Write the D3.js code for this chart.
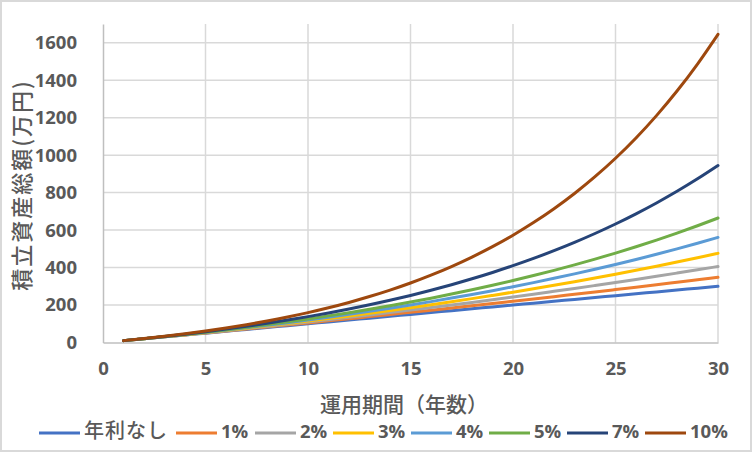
<!DOCTYPE html>
<html>
<head>
<meta charset="utf-8">
<script src="https://cdn.jsdelivr.net/npm/d3@7"></script>
<style>
  body { margin: 0; background: #fff; }
  svg text { fill: #595959; }
  .num { font-family: "Open Sans", "Noto Sans", sans-serif; font-weight: 700; }
  .jp { font-family: "Noto Sans CJK JP", sans-serif; font-weight: 500; }
</style>
</head>
<body>
<div id="chart"></div>
<script>
const years = d3.range(1, 31);
const seriesNames = ["年利なし", "1%", "2%", "3%", "4%", "5%", "7%", "10%"];
const colors = ["#4472C4", "#ED7D31", "#A5A5A5", "#FFC000", "#5B9BD5", "#70AD47", "#264478", "#9E480E"];

const rate0 = [10, 20, 30, 40, 50, 60, 70, 80, 90, 100, 110, 120, 130, 140, 150, 160, 170, 180, 190, 200, 210, 220, 230, 240, 250, 260, 270, 280, 290, 300];
const rate1 = [10, 20.1, 30.3, 40.6, 51.0, 61.5, 72.1, 82.9, 93.7, 104.6, 115.7, 126.8, 138.1, 149.5, 161.0, 172.6, 184.3, 196.1, 208.1, 220.2, 232.4, 244.7, 257.2, 269.7, 282.4, 295.3, 308.2, 321.3, 334.5, 347.8];
const rate2 = [10, 20.2, 30.6, 41.2, 52.0, 63.1, 74.3, 85.8, 97.5, 109.5, 121.7, 134.1, 146.8, 159.7, 172.9, 186.4, 200.1, 214.1, 228.4, 243.0, 257.8, 273.0, 288.4, 304.2, 320.3, 336.7, 353.4, 370.5, 387.9, 405.7];
const rate3 = [10, 20.3, 30.9, 41.8, 53.1, 64.7, 76.6, 88.9, 101.6, 114.6, 128.1, 141.9, 156.2, 170.9, 186.0, 201.6, 217.6, 234.1, 251.2, 268.7, 286.8, 305.4, 324.5, 344.3, 364.6, 385.5, 407.1, 429.3, 452.2, 475.8];
const rate4 = [10, 20.4, 31.2, 42.5, 54.2, 66.3, 79.0, 92.1, 105.8, 120.1, 134.9, 150.3, 166.3, 182.9, 200.2, 218.2, 237.0, 256.5, 276.7, 297.8, 319.7, 342.5, 366.2, 390.8, 416.5, 443.1, 470.8, 499.7, 529.7, 560.8];
const rate5 = [10, 20.5, 31.5, 43.1, 55.3, 68.0, 81.4, 95.5, 110.3, 125.8, 142.1, 159.2, 177.1, 196.0, 215.8, 236.6, 258.4, 281.3, 305.4, 330.7, 357.2, 385.1, 414.3, 445.0, 477.3, 511.1, 546.7, 584.0, 623.2, 664.4];
const rate7 = [10, 20.7, 32.1, 44.4, 57.5, 71.5, 86.5, 102.6, 119.8, 138.2, 157.8, 178.9, 201.4, 225.5, 251.3, 278.9, 308.4, 340.0, 373.8, 410.0, 448.7, 490.1, 534.4, 581.8, 632.5, 686.8, 744.8, 807.0, 873.5, 944.6];
const rate10 = [10, 21.0, 33.1, 46.4, 61.1, 77.2, 94.9, 114.4, 135.8, 159.4, 185.3, 213.8, 245.2, 279.7, 317.7, 359.5, 405.4, 456.0, 511.6, 572.7, 640.0, 714.0, 795.4, 885.0, 983.5, 1091.8, 1211.0, 1342.1, 1486.3, 1644.9];
const allSeries = [rate0, rate1, rate2, rate3, rate4, rate5, rate7, rate10];

const xTicks = [0, 5, 10, 15, 20, 25, 30];
const yTicks = [0, 200, 400, 600, 800, 1000, 1200, 1400, 1600];

const W = 752, H = 452;
const svg = d3.select("#chart").append("svg").attr("width", W).attr("height", H);

svg.append("rect")
  .attr("x", 1).attr("y", 1)
  .attr("width", W - 2).attr("height", H - 2)
  .attr("fill", "#fff").attr("stroke", "#d9d9d9").attr("stroke-width", 2);

const x = d3.scaleLinear().domain([0, 30]).range([103, 718]);
const y = d3.scaleLinear().domain([0, 1700]).range([342.5, 24]);

// gridlines
svg.append("g")
  .selectAll("line")
  .data(yTicks.slice(1))
  .join("line")
  .attr("x1", x(0)).attr("x2", x(30))
  .attr("y1", (d) => y(d)).attr("y2", (d) => y(d))
  .attr("stroke", "#d9d9d9").attr("stroke-width", 1.5);

svg.append("g")
  .selectAll("line")
  .data(xTicks.slice(1))
  .join("line")
  .attr("x1", (d) => x(d)).attr("x2", (d) => x(d))
  .attr("y1", y(0)).attr("y2", y(1700))
  .attr("stroke", "#d9d9d9").attr("stroke-width", 1.5);

// axes
const yAxis = svg.append("g")
  .attr("transform", `translate(${x(0)},0)`)
  .call(d3.axisLeft(y).tickValues(yTicks).tickFormat(d3.format("d")).tickSize(0).tickPadding(26));
const xAxis = svg.append("g")
  .attr("transform", `translate(0,${y(0)})`)
  .call(d3.axisBottom(x).tickValues(xTicks).tickFormat(d3.format("d")).tickSize(0).tickPadding(19));

[yAxis, xAxis].forEach((g) => {
  g.attr("font-family", null).attr("font-size", null);
  g.select(".domain").attr("stroke", "#bfbfbf").attr("stroke-width", 1.5);
  g.selectAll("text").attr("class", "num").attr("font-size", 18.5);
});

// lines
const line = d3.line()
  .x((d, i) => x(years[i]))
  .y((d) => y(d))
  .curve(d3.curveMonotoneX);

svg.append("g")
  .selectAll("path")
  .data(allSeries)
  .join("path")
  .attr("d", line)
  .attr("fill", "none")
  .attr("stroke", (d, i) => colors[i])
  .attr("stroke-width", 3)
  .attr("stroke-linecap", "round");

// axis titles
svg.append("text")
  .attr("class", "jp")
  .attr("transform", `translate(24,185) rotate(-90)`)
  .attr("text-anchor", "middle")
  .attr("dominant-baseline", "middle")
  .attr("font-size", 22)
  .attr("letter-spacing", 2)
  .text("積立資産総額(万円)");

svg.append("text")
  .attr("class", "jp")
  .attr("x", 404).attr("y", 406)
  .attr("text-anchor", "middle")
  .attr("dominant-baseline", "middle")
  .attr("font-size", 21)
  .text("運用期間（年数）");

// legend
const legendX = [39, 176, 255, 333, 411, 489, 567, 645];
const legend = svg.append("g")
  .selectAll("g")
  .data(seriesNames)
  .join("g")
  .attr("transform", (d, i) => `translate(${legendX[i]},433)`);

legend.append("line")
  .attr("x1", 0).attr("x2", 41)
  .attr("stroke", (d, i) => colors[i])
  .attr("stroke-width", 3);

legend.append("text")
  .attr("class", (d, i) => (i === 0 ? "jp" : "num"))
  .attr("x", 45)
  .attr("dominant-baseline", "middle")
  .attr("font-size", (d, i) => (i === 0 ? 20 : 18.5))
  .attr("letter-spacing", (d, i) => (i === 0 ? 1 : 0))
  .text((d) => d);
</script>
</body>
</html>
